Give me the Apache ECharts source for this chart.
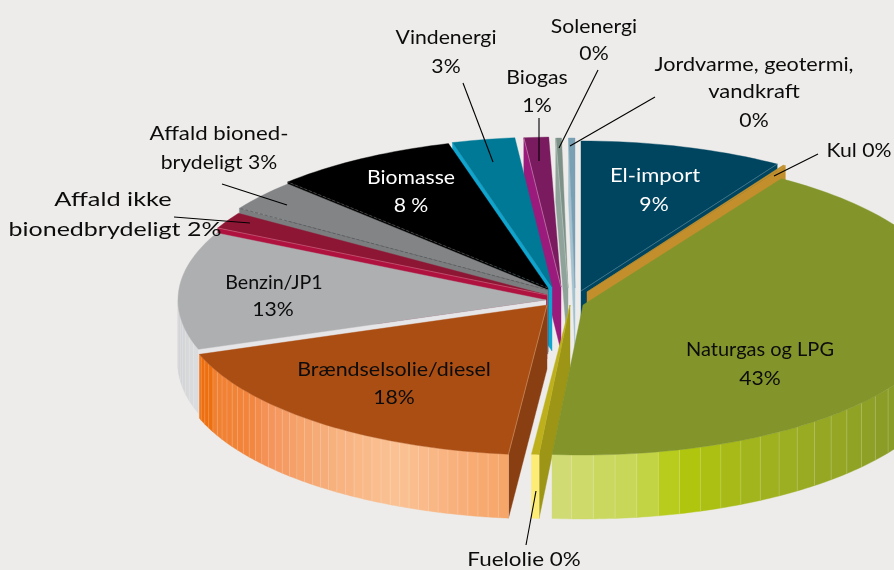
<!DOCTYPE html>
<html>
<head>
<meta charset="utf-8">
<style>
html, body { margin: 0; padding: 0; background: #edecea; }
#chart { width: 894px; height: 570px; }
</style>
<script src="https://cdn.jsdelivr.net/npm/echarts@6/dist/echarts.min.js"></script>
</head>
<body>
<div id="chart"></div>
<script>
// data (share of total, the "0%" ones are thin slivers)
var names = ['El-import', 'Kul', 'Naturgas og LPG', 'Fuelolie', 'Brændselsolie/diesel', 'Benzin/JP1',
	'Affald ikke bionedbrydeligt', 'Affald bionedbrydeligt', 'Biomasse', 'Vindenergi', 'Biogas', 'Solenergi', 'Jordvarme, geotermi, vandkraft'];
var shares = [8.95, 0.11, 42.28, 0.33, 18.0, 12.7, 1.8, 3.33, 8.14, 2.75, 1.08, 0.25, 0.28];

// look of the slices
var topColors = ['#004560', '#c28f2c', '#82942a', '#bdb01c', '#ab4e14', '#aeafb1', '#8e1635', '#828486', '#000000', '#007996', '#7a1b5f', '#7d9188', '#7aa0b4'];
var cutColors = ['#004560', '#c28f2c', '#82942a', '#9d9516', '#8a3f12', '#e6e6e8', '#b0123f', '#7b7d7f', '#000000', '#0fa5cf', '#9b1b7c', '#8fa39b', '#a4c2d0'];
var cutLines = ['#4f8091', null, null, null, '#c98a5c', null, '#d2607f', '#55575a', '#555555', null, '#c77bb2', '#b5c4be', null];
var explodeX = [16, 22, 18, 5, -18, -19, -18, -17, -17, -13, -4, 3, 10];
var explodeY = [-7, -6, 7, 7, 7, 2, -3, -8, -10, -11, -11, -10, -10];
var drawOrder = [12, 11, 10, 9, 8, 7, 6, 5, 4, 0, 1, 3, 2];

// colours along the outer wall: [angle, colour]
var wallStops = {
	2: [[124, '#8a9c28'], [151, '#a0b21f'], [165, '#b2c80a'], [171, '#c6d650'], [185, '#d2dc78']],
	3: [[184, '#fdec75'], [186, '#fdec75']],
	4: [[186, '#f6a566'], [193, '#f8ae78'], [204, '#fbc294'], [216, '#f7b07c'], [229, '#f4945a'], [234, '#f2853c'], [245, '#f0802f'], [246, '#ee6f10'], [251, '#ee6f10']],
	5: [[250, '#dddee0'], [270, '#cdced0']]
};
var wallStep = { 2: 3.4, 3: 2, 4: 1.6, 5: 2.5 };

// labels: [text, x, y, colour, horizontal stretch]
var labels = [
	['Vindenergi', 446, 38], ['3%', 446, 67],
	['Solenergi', 594, 27], ['0%', 594, 54],
	['Jordvarme, geotermi,', 754, 65, null, 1.08], ['vandkraft', 754, 92, null, 1.1], ['0%', 754, 121],
	['Biogas', 537, 78], ['1%', 537, 106],
	['Kul 0%', 859, 151],
	['El-import', 655, 176, '#ffffff', 1.1], ['9%', 654, 205, '#ffffff'],
	['Biomasse', 411, 178, '#ffffff'], ['8 %', 411, 206, '#ffffff'],
	['Affald bioned-', 219, 134, null, 1.11], ['brydeligt 3%', 219, 163],
	['Affald ikke', 113, 200, null, 1.27], ['bionedbrydeligt 2%', 115, 230, null, 1.25],
	['Benzin/JP1', 274, 283, null, 0.98], ['13%', 273, 310],
	['Brændselsolie/diesel', 394, 370, null, 1.07], ['18%', 394, 398],
	['Naturgas og LPG', 760, 350, null, 1], ['43%', 760, 379],
	['Fuelolie 0%', 524, 560, null, 1.12]
];
var leaders = [
	[[463, 83], [493, 162]], [[539, 118], [539, 161]], [[598, 70], [559, 148]], [[655, 97], [570, 146]],
	[[818, 154], [774, 176]], [[222, 184], [287, 205]], [[174, 217], [250, 223]], [[526, 545], [536, 491]]
];

var cx = 565, cy = 298, rx = 368, ry = 150, depth = 64;
var total = shares.reduce(function(a, b) { return a + b; }, 0);

function hex2rgb(h) {
	return [parseInt(h.substr(1, 2), 16), parseInt(h.substr(3, 2), 16), parseInt(h.substr(5, 2), 16)];
}
function wallColor(stops, t) {
	if (t <= stops[0][0]) return stops[0][1];
	for (var i = 1; i < stops.length; i++) {
		if (t <= stops[i][0]) {
			var a = hex2rgb(stops[i - 1][1]), b = hex2rgb(stops[i][1]);
			var k = (t - stops[i - 1][0]) / (stops[i][0] - stops[i - 1][0]);
			return 'rgb(' + a.map(function(v, n) { return Math.round(v + (b[n] - v) * k); }).join(',') + ')';
		}
	}
	return stops[stops.length - 1][1];
}

function renderItem(params, api) {
	var i = api.value(2);
	var t0 = api.value(0) / total * 360, t1 = api.value(1) / total * 360;
	var ax = cx + explodeX[i], ay = cy + explodeY[i];
	function rim(t) {
		var r = t * Math.PI / 180;
		return [ax + rx * Math.sin(r), ay - ry * Math.cos(r)];
	}
	var children = [];
	function poly(points, fill) {
		children.push({ type: 'polygon', shape: { points: points }, style: { fill: fill, stroke: fill, lineWidth: 0.4 } });
	}
	function cutWall(t) {
		var p = rim(t);
		poly([[ax, ay], p, [p[0], p[1] + depth], [ax, ay + depth]], cutColors[i]);
	}
	// the cut faces that look towards the viewer
	if (t0 > 180 && t0 < 360) cutWall(t0);
	if (t1 < 180) cutWall(t1);
	// outer wall, built of narrow strips
	if (wallStops[i]) {
		var from = Math.max(t0, 90), to = Math.min(t1, 270), step = wallStep[i];
		for (var t = from; t < to; t += step) {
			var e = Math.min(t + step, to), a = rim(t), b = rim(e), pts = [];
			for (var s = 0; s <= 4; s++) pts.push(rim(t + (e - t) * s / 4));
			for (s = 4; s >= 0; s--) { var q = rim(t + (e - t) * s / 4); pts.push([q[0], q[1] + depth]); }
			poly(pts, wallColor(wallStops[i], (t + e) / 2));
			children.push({ type: 'line', shape: { x1: a[0], y1: a[1], x2: a[0], y2: a[1] + depth },
				style: { stroke: 'rgba(255,255,255,0.18)', lineWidth: 1 } });
		}
	}
	// top face
	var top = [[ax, ay]];
	var n = Math.max(2, Math.ceil((t1 - t0) / 1.5));
	for (var k = 0; k <= n; k++) top.push(rim(t0 + (t1 - t0) * k / n));
	poly(top, topColors[i]);
	// thin line between top face and cut face
	if (cutLines[i]) {
		var c = rim(t0 > 180 ? t0 : t1);
		children.push({ type: 'line', shape: { x1: ax, y1: ay, x2: c[0], y2: c[1] },
			style: { stroke: cutLines[i], lineWidth: 0.7, lineDash: (i === 7 || i === 8) ? [3, 2] : null } });
	}
	return { type: 'group', children: children };
}

var cum = [0];
shares.forEach(function(v, i) { cum.push(cum[i] + v); });
var rows = drawOrder.map(function(i) { return [cum[i], cum[i + 1], i]; });

var graphics = [];
leaders.forEach(function(l) {
	graphics.push({ type: 'polyline', z: 10, shape: { points: l }, style: { stroke: '#000000', lineWidth: 1.1, fill: null } });
});
labels.forEach(function(l) {
	graphics.push({ type: 'text', z: 11, x: l[1], y: l[2], scaleX: l[4] || 1.06, style: {
		text: l[0], fill: l[3] || '#0c0c0c', font: '20px Lato', textAlign: 'center', textVerticalAlign: 'middle'
	} });
});

var myChart = echarts.init(document.getElementById('chart'));
myChart.setOption({
	backgroundColor: '#edecea',
	animation: false,
	graphic: graphics,
	series: [{
		type: 'custom',
		name: 'Energi',
		coordinateSystem: 'none',
		silent: true,
		renderItem: renderItem,
		data: rows
	}]
});
</script>
</body>
</html>
